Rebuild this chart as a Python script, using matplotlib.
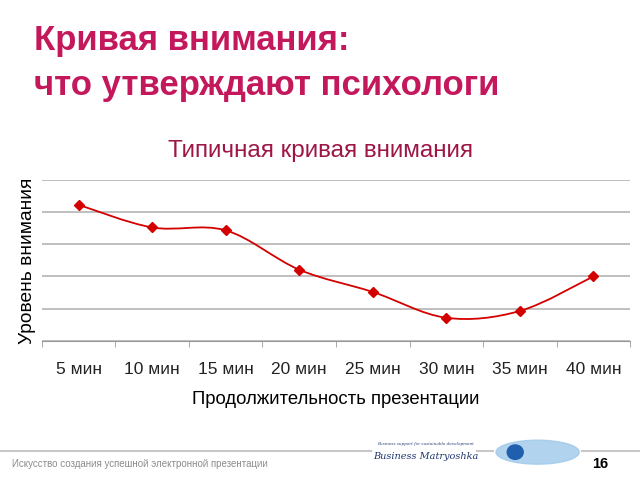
import numpy as np
import matplotlib.pyplot as plt
from matplotlib.path import Path
from matplotlib.patches import PathPatch, Ellipse
from matplotlib.lines import Line2D

plt.rcParams["font.family"] = ["Liberation Sans", "DejaVu Sans"]

# ---- данные ----
categories = ["5 мин", "10 мин", "15 мин", "20 мин", "25 мин", "30 мин", "35 мин", "40 мин"]
attention = [4.22, 3.52, 3.43, 2.21, 1.52, 0.72, 0.93, 2.0]

slide_title = ["Кривая внимания:", "что утверждают психологи"]
chart_title = "Типичная кривая внимания"
x_label = "Продолжительность презентации"
y_label = "Уровень внимания"
footer = "Искусство создания успешной электронной презентации"
page = "16"

RED = "#D40000"


def smooth_path(xs, ys):
    # сглаживание как в Excel: кубические Безье по соседним точкам
    pts = np.column_stack([xs, ys])
    n = len(pts)
    verts = [pts[0]]
    codes = [Path.MOVETO]
    for i in range(n - 1):
        p0 = pts[max(i - 1, 0)]
        p1 = pts[i]
        p2 = pts[i + 1]
        p3 = pts[min(i + 2, n - 1)]
        c1 = p1 + (p2 - p0) / 6
        c2 = p2 - (p3 - p1) / 6
        verts += [c1, c2, p2]
        codes += [Path.CURVE4] * 3
    return Path(verts, codes)


fig = plt.figure(figsize=(6.4, 4.8), dpi=100)

# заголовок слайда
fig.text(0.053, 0.895, slide_title[0], color="#C4185C", fontsize=25, fontweight="bold", va="baseline")
fig.text(0.053, 0.802, slide_title[1], color="#C4185C", fontsize=25, fontweight="bold", va="baseline")

ax = fig.add_axes([0.0656, 0.2896, 0.9188, 0.336])
x = np.arange(len(categories))
ax.add_patch(PathPatch(smooth_path(x, attention), facecolor="none", edgecolor=RED, lw=1.3, zorder=3))
ax.plot(x, attention, ls="none", marker="D", ms=5, color=RED, zorder=4)

ax.set_xlim(-0.5, len(categories) - 0.5)
ax.set_ylim(0, 5)
ax.set_yticks(np.arange(0, 6, 1))
ax.set_yticklabels([])
ax.tick_params(axis="y", length=0)
ax.yaxis.grid(True, color="#b4b4b4", lw=1.2)
ax.set_axisbelow(True)
for s in ["top", "right", "left"]:
    ax.spines[s].set_visible(False)
ax.spines["bottom"].set_color("#999999")

ax.set_xticks(x)
ax.set_xticklabels(categories, fontsize=12.5, color="#222222")
ax.tick_params(axis="x", length=0, pad=15)
ax.set_xticks(np.arange(-0.5, len(categories)), minor=True)
ax.tick_params(axis="x", which="minor", length=4, color="#999999")

ax.set_xlabel(x_label, fontsize=13.3, labelpad=10)
ax.set_ylabel(y_label, fontsize=13.8)
ax.yaxis.set_label_coords(-0.011, 0.5)
fig.text(0.5, 0.686, chart_title, fontsize=17.5, color="#9E1646", ha="center", va="center")

# нижний колонтитул
fig.add_artist(Line2D([0, 0.58], [0.06, 0.06], color="#c8c8c8", lw=1.5))
fig.add_artist(Line2D([0.745, 0.77], [0.06, 0.06], color="#c8c8c8", lw=1.5))
fig.add_artist(Line2D([0.91, 1.0], [0.06, 0.06], color="#c8c8c8", lw=1.5))
fig.text(0.019, 0.028, footer, fontsize=7, color="#8c8c8c", va="baseline")
fig.text(0.925, 0.026, page, fontsize=10.5, fontweight="bold", va="baseline")
fig.text(0.665, 0.072, "Business support for sustainable development", fontsize=3, style="italic",
         color="#2a3f7a", ha="center", family="DejaVu Serif")
fig.text(0.665, 0.044, "Business Matryoshka", fontsize=7, style="italic", color="#1f3570",
         ha="center", family="DejaVu Serif")
fig.add_artist(Ellipse((0.84, 0.058), 0.13, 0.05, transform=fig.transFigure, color="#9ec9ea", alpha=0.8))
fig.add_artist(Ellipse((0.805, 0.058), 0.025, 0.03, transform=fig.transFigure, color="#1f5fae"))

fig.savefig("out.png", dpi=100)
